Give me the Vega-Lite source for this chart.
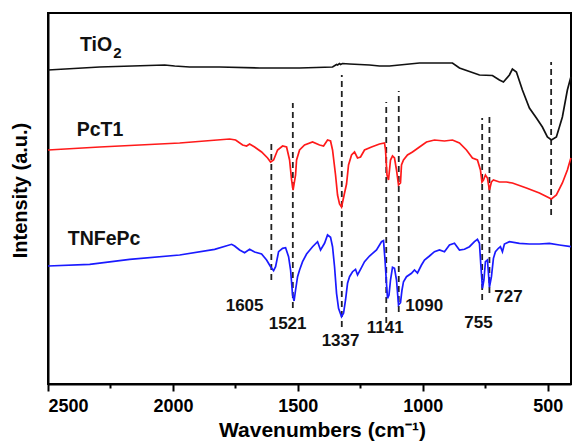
{
  "$schema": "https://vega.github.io/schema/vega-lite/v6.json",
  "autosize": "none",
  "width": 523,
  "height": 371,
  "padding": {"left": 48, "top": 13, "right": 1, "bottom": 63},
  "background": "white",
  "config": {
    "view": {"stroke": "black", "strokeWidth": 2},
    "font": "Liberation Sans"
  },
  "datasets": {
    "spectra": [
      {"s": "TiO2", "wn": 2500, "v": 313}, {"s": "TiO2", "wn": 2293, "v": 316}, {"s": "TiO2", "wn": 2033, "v": 318}, {"s": "TiO2", "wn": 1993, "v": 317}, {"s": "TiO2", "wn": 1933, "v": 316}, {"s": "TiO2", "wn": 1813, "v": 316}, {"s": "TiO2", "wn": 1653, "v": 315}, {"s": "TiO2", "wn": 1493, "v": 315}, {"s": "TiO2", "wn": 1361, "v": 316}, {"s": "TiO2", "wn": 1345, "v": 318.5}, {"s": "TiO2", "wn": 1341, "v": 318}, {"s": "TiO2", "wn": 1333, "v": 319.5}, {"s": "TiO2", "wn": 1329, "v": 318.5}, {"s": "TiO2", "wn": 1321, "v": 319.5}, {"s": "TiO2", "wn": 1293, "v": 319}, {"s": "TiO2", "wn": 1213, "v": 318}, {"s": "TiO2", "wn": 1173, "v": 317}, {"s": "TiO2", "wn": 1133, "v": 317}, {"s": "TiO2", "wn": 1093, "v": 318}, {"s": "TiO2", "wn": 1013, "v": 320}, {"s": "TiO2", "wn": 905, "v": 320}, {"s": "TiO2", "wn": 881, "v": 320}, {"s": "TiO2", "wn": 853, "v": 315}, {"s": "TiO2", "wn": 773, "v": 308}, {"s": "TiO2", "wn": 721, "v": 307.5}, {"s": "TiO2", "wn": 693, "v": 303}, {"s": "TiO2", "wn": 677, "v": 301}, {"s": "TiO2", "wn": 653, "v": 308}, {"s": "TiO2", "wn": 641, "v": 314}, {"s": "TiO2", "wn": 625, "v": 311}, {"s": "TiO2", "wn": 601, "v": 293}, {"s": "TiO2", "wn": 573, "v": 275}, {"s": "TiO2", "wn": 545, "v": 265}, {"s": "TiO2", "wn": 521, "v": 256}, {"s": "TiO2", "wn": 501, "v": 246}, {"s": "TiO2", "wn": 485, "v": 243}, {"s": "TiO2", "wn": 465, "v": 246}, {"s": "TiO2", "wn": 441, "v": 266}, {"s": "TiO2", "wn": 421, "v": 293}, {"s": "TiO2", "wn": 407, "v": 306},
      {"s": "PcT1", "wn": 2500, "v": 233}, {"s": "PcT1", "wn": 2293, "v": 236}, {"s": "PcT1", "wn": 1973, "v": 240}, {"s": "PcT1", "wn": 1773, "v": 244}, {"s": "PcT1", "wn": 1749, "v": 243}, {"s": "PcT1", "wn": 1721, "v": 238}, {"s": "PcT1", "wn": 1705, "v": 237}, {"s": "PcT1", "wn": 1693, "v": 239}, {"s": "PcT1", "wn": 1673, "v": 236}, {"s": "PcT1", "wn": 1645, "v": 231}, {"s": "PcT1", "wn": 1621, "v": 225}, {"s": "PcT1", "wn": 1609, "v": 221}, {"s": "PcT1", "wn": 1597, "v": 223}, {"s": "PcT1", "wn": 1581, "v": 233}, {"s": "PcT1", "wn": 1561, "v": 237}, {"s": "PcT1", "wn": 1545, "v": 236}, {"s": "PcT1", "wn": 1533, "v": 223}, {"s": "PcT1", "wn": 1525, "v": 203}, {"s": "PcT1", "wn": 1519, "v": 193}, {"s": "PcT1", "wn": 1509, "v": 208}, {"s": "PcT1", "wn": 1505, "v": 223}, {"s": "PcT1", "wn": 1493, "v": 233}, {"s": "PcT1", "wn": 1473, "v": 238}, {"s": "PcT1", "wn": 1441, "v": 241}, {"s": "PcT1", "wn": 1413, "v": 238}, {"s": "PcT1", "wn": 1397, "v": 237}, {"s": "PcT1", "wn": 1381, "v": 243}, {"s": "PcT1", "wn": 1369, "v": 242}, {"s": "PcT1", "wn": 1361, "v": 233}, {"s": "PcT1", "wn": 1349, "v": 208}, {"s": "PcT1", "wn": 1341, "v": 188}, {"s": "PcT1", "wn": 1333, "v": 179}, {"s": "PcT1", "wn": 1325, "v": 176}, {"s": "PcT1", "wn": 1313, "v": 190}, {"s": "PcT1", "wn": 1305, "v": 199}, {"s": "PcT1", "wn": 1297, "v": 218}, {"s": "PcT1", "wn": 1285, "v": 228}, {"s": "PcT1", "wn": 1273, "v": 231}, {"s": "PcT1", "wn": 1261, "v": 225}, {"s": "PcT1", "wn": 1249, "v": 226}, {"s": "PcT1", "wn": 1233, "v": 233}, {"s": "PcT1", "wn": 1205, "v": 236}, {"s": "PcT1", "wn": 1173, "v": 239}, {"s": "PcT1", "wn": 1153, "v": 240}, {"s": "PcT1", "wn": 1149, "v": 233}, {"s": "PcT1", "wn": 1143, "v": 208}, {"s": "PcT1", "wn": 1137, "v": 203}, {"s": "PcT1", "wn": 1129, "v": 223}, {"s": "PcT1", "wn": 1121, "v": 227}, {"s": "PcT1", "wn": 1113, "v": 225}, {"s": "PcT1", "wn": 1105, "v": 213}, {"s": "PcT1", "wn": 1097, "v": 198}, {"s": "PcT1", "wn": 1089, "v": 200}, {"s": "PcT1", "wn": 1085, "v": 218}, {"s": "PcT1", "wn": 1077, "v": 223}, {"s": "PcT1", "wn": 1061, "v": 228}, {"s": "PcT1", "wn": 1041, "v": 231}, {"s": "PcT1", "wn": 1013, "v": 236}, {"s": "PcT1", "wn": 985, "v": 241}, {"s": "PcT1", "wn": 953, "v": 243}, {"s": "PcT1", "wn": 913, "v": 242}, {"s": "PcT1", "wn": 881, "v": 243}, {"s": "PcT1", "wn": 853, "v": 240}, {"s": "PcT1", "wn": 825, "v": 233}, {"s": "PcT1", "wn": 801, "v": 225}, {"s": "PcT1", "wn": 781, "v": 223}, {"s": "PcT1", "wn": 769, "v": 213}, {"s": "PcT1", "wn": 763, "v": 201}, {"s": "PcT1", "wn": 757, "v": 203}, {"s": "PcT1", "wn": 749, "v": 208}, {"s": "PcT1", "wn": 741, "v": 205}, {"s": "PcT1", "wn": 733, "v": 193}, {"s": "PcT1", "wn": 725, "v": 201}, {"s": "PcT1", "wn": 717, "v": 203}, {"s": "PcT1", "wn": 693, "v": 201}, {"s": "PcT1", "wn": 665, "v": 201}, {"s": "PcT1", "wn": 641, "v": 200}, {"s": "PcT1", "wn": 585, "v": 195}, {"s": "PcT1", "wn": 533, "v": 190}, {"s": "PcT1", "wn": 501, "v": 186}, {"s": "PcT1", "wn": 485, "v": 184}, {"s": "PcT1", "wn": 465, "v": 188}, {"s": "PcT1", "wn": 441, "v": 200}, {"s": "PcT1", "wn": 421, "v": 213}, {"s": "PcT1", "wn": 407, "v": 225},
      {"s": "TNFePc", "wn": 2500, "v": 117}, {"s": "TNFePc", "wn": 2333, "v": 118.7}, {"s": "TNFePc", "wn": 2173, "v": 123.7}, {"s": "TNFePc", "wn": 1973, "v": 128}, {"s": "TNFePc", "wn": 1833, "v": 133.7}, {"s": "TNFePc", "wn": 1765, "v": 138.7}, {"s": "TNFePc", "wn": 1753, "v": 137}, {"s": "TNFePc", "wn": 1733, "v": 133}, {"s": "TNFePc", "wn": 1713, "v": 130.3}, {"s": "TNFePc", "wn": 1693, "v": 133.7}, {"s": "TNFePc", "wn": 1673, "v": 131}, {"s": "TNFePc", "wn": 1645, "v": 129}, {"s": "TNFePc", "wn": 1625, "v": 123}, {"s": "TNFePc", "wn": 1609, "v": 116.3}, {"s": "TNFePc", "wn": 1597, "v": 112.3}, {"s": "TNFePc", "wn": 1589, "v": 116.3}, {"s": "TNFePc", "wn": 1577, "v": 131.3}, {"s": "TNFePc", "wn": 1561, "v": 134.7}, {"s": "TNFePc", "wn": 1549, "v": 135.3}, {"s": "TNFePc", "wn": 1537, "v": 126.3}, {"s": "TNFePc", "wn": 1529, "v": 113}, {"s": "TNFePc", "wn": 1521, "v": 88}, {"s": "TNFePc", "wn": 1515, "v": 82}, {"s": "TNFePc", "wn": 1509, "v": 93}, {"s": "TNFePc", "wn": 1501, "v": 106.3}, {"s": "TNFePc", "wn": 1493, "v": 113}, {"s": "TNFePc", "wn": 1481, "v": 121.3}, {"s": "TNFePc", "wn": 1465, "v": 129}, {"s": "TNFePc", "wn": 1441, "v": 136.3}, {"s": "TNFePc", "wn": 1421, "v": 141.3}, {"s": "TNFePc", "wn": 1409, "v": 133}, {"s": "TNFePc", "wn": 1393, "v": 139.7}, {"s": "TNFePc", "wn": 1381, "v": 148}, {"s": "TNFePc", "wn": 1369, "v": 145.7}, {"s": "TNFePc", "wn": 1361, "v": 136.3}, {"s": "TNFePc", "wn": 1353, "v": 116.3}, {"s": "TNFePc", "wn": 1345, "v": 89.7}, {"s": "TNFePc", "wn": 1337, "v": 74.7}, {"s": "TNFePc", "wn": 1325, "v": 66.3}, {"s": "TNFePc", "wn": 1317, "v": 69.7}, {"s": "TNFePc", "wn": 1309, "v": 83}, {"s": "TNFePc", "wn": 1301, "v": 99.7}, {"s": "TNFePc", "wn": 1293, "v": 106.3}, {"s": "TNFePc", "wn": 1281, "v": 111.3}, {"s": "TNFePc", "wn": 1269, "v": 113.7}, {"s": "TNFePc", "wn": 1261, "v": 108}, {"s": "TNFePc", "wn": 1249, "v": 113.7}, {"s": "TNFePc", "wn": 1233, "v": 121.3}, {"s": "TNFePc", "wn": 1213, "v": 127}, {"s": "TNFePc", "wn": 1185, "v": 133}, {"s": "TNFePc", "wn": 1165, "v": 141.3}, {"s": "TNFePc", "wn": 1157, "v": 142.3}, {"s": "TNFePc", "wn": 1151, "v": 123}, {"s": "TNFePc", "wn": 1146, "v": 103}, {"s": "TNFePc", "wn": 1141, "v": 84.7}, {"s": "TNFePc", "wn": 1135, "v": 88}, {"s": "TNFePc", "wn": 1129, "v": 103}, {"s": "TNFePc", "wn": 1121, "v": 115.7}, {"s": "TNFePc", "wn": 1113, "v": 114.7}, {"s": "TNFePc", "wn": 1105, "v": 103}, {"s": "TNFePc", "wn": 1097, "v": 78}, {"s": "TNFePc", "wn": 1089, "v": 80.3}, {"s": "TNFePc", "wn": 1083, "v": 93}, {"s": "TNFePc", "wn": 1077, "v": 101.3}, {"s": "TNFePc", "wn": 1065, "v": 106.3}, {"s": "TNFePc", "wn": 1045, "v": 109.7}, {"s": "TNFePc", "wn": 1033, "v": 113}, {"s": "TNFePc", "wn": 1021, "v": 110}, {"s": "TNFePc", "wn": 1005, "v": 118}, {"s": "TNFePc", "wn": 993, "v": 123}, {"s": "TNFePc", "wn": 973, "v": 127}, {"s": "TNFePc", "wn": 953, "v": 131.3}, {"s": "TNFePc", "wn": 933, "v": 133}, {"s": "TNFePc", "wn": 913, "v": 131.3}, {"s": "TNFePc", "wn": 893, "v": 138}, {"s": "TNFePc", "wn": 873, "v": 139.7}, {"s": "TNFePc", "wn": 853, "v": 133}, {"s": "TNFePc", "wn": 833, "v": 133.7}, {"s": "TNFePc", "wn": 813, "v": 136.3}, {"s": "TNFePc", "wn": 793, "v": 141.3}, {"s": "TNFePc", "wn": 781, "v": 143.7}, {"s": "TNFePc", "wn": 773, "v": 139.7}, {"s": "TNFePc", "wn": 767, "v": 116.3}, {"s": "TNFePc", "wn": 761, "v": 94.7}, {"s": "TNFePc", "wn": 755, "v": 103}, {"s": "TNFePc", "wn": 749, "v": 121.3}, {"s": "TNFePc", "wn": 741, "v": 123}, {"s": "TNFePc", "wn": 737, "v": 109.7}, {"s": "TNFePc", "wn": 733, "v": 95.7}, {"s": "TNFePc", "wn": 725, "v": 106.3}, {"s": "TNFePc", "wn": 717, "v": 124.7}, {"s": "TNFePc", "wn": 709, "v": 131.3}, {"s": "TNFePc", "wn": 697, "v": 134.7}, {"s": "TNFePc", "wn": 689, "v": 136.3}, {"s": "TNFePc", "wn": 681, "v": 131.3}, {"s": "TNFePc", "wn": 673, "v": 139}, {"s": "TNFePc", "wn": 653, "v": 141.3}, {"s": "TNFePc", "wn": 613, "v": 139.7}, {"s": "TNFePc", "wn": 573, "v": 139}, {"s": "TNFePc", "wn": 533, "v": 139}, {"s": "TNFePc", "wn": 493, "v": 139.7}, {"s": "TNFePc", "wn": 453, "v": 138}, {"s": "TNFePc", "wn": 407, "v": 136.3}
    ],
    "peaks": [
      {"label": "1605", "wn": 1606, "lo": 103, "hi": 241, "lx": 1713, "ly": 77},
      {"label": "1521", "wn": 1520, "lo": 75, "hi": 280, "lx": 1541, "ly": 59},
      {"label": "1337", "wn": 1324, "lo": 56, "hi": 308, "lx": 1329, "ly": 42},
      {"label": "1141", "wn": 1146, "lo": 60, "hi": 281, "lx": 1150, "ly": 55},
      {"label": "1090", "wn": 1096, "lo": 71, "hi": 292, "lx": 994, "ly": 77},
      {"label": "755", "wn": 762, "lo": 83, "hi": 265, "lx": 777, "ly": 60},
      {"label": "727", "wn": 733, "lo": 90, "hi": 270, "lx": 657, "ly": 86},
      {"label": "", "wn": 486, "lo": 168, "hi": 321, "lx": 486, "ly": 168}
    ],
    "names": [
      {"name": "TiO", "wn": 2372, "v": 338.5},
      {"name": "PcT1", "wn": 2385, "v": 253},
      {"name": "TNFePc", "wn": 2421, "v": 144}
    ],
    "subs": [
      {"name": "2", "wn": 2222, "v": 330.5}
    ]
  },
  "layer": [
    {
      "data": {"name": "peaks"},
      "mark": {"type": "rule", "strokeDash": [6, 4], "strokeWidth": 1.8, "color": "#222222"},
      "encoding": {
        "x": {"field": "wn", "type": "quantitative"},
        "y": {"field": "lo", "type": "quantitative"},
        "y2": {"field": "hi"}
      }
    },
    {
      "data": {"name": "spectra"},
      "mark": {"type": "line", "strokeWidth": 1.7, "interpolate": "linear"},
      "encoding": {
        "x": {
          "field": "wn", "type": "quantitative",
          "scale": {"domain": [2500, 406.5], "nice": false, "zero": false},
          "axis": {
            "values": [2500, 2250, 2000, 1750, 1500, 1250, 1000, 750, 500],
            "labelExpr": "datum.value % 500 === 0 ? datum.label : ''",
            "format": "d",
            "grid": false,
            "domainColor": "black", "domainWidth": 2,
            "tickColor": "black", "tickWidth": 2,
            "tickSize": {"condition": {"test": "datum.value % 500 === 0", "value": 7}, "value": 4},
            "labelPadding": 6,
            "labelFont": "Liberation Sans", "labelFontWeight": "bold", "labelFontSize": 18, "labelColor": "black",
            "title": "Wavenumbers (cm⁻¹)",
            "titleFont": "Liberation Sans", "titleFontWeight": "bold", "titleFontSize": 21, "titleColor": "black",
            "titleX": 274, "titleY": 52, "titleBaseline": "alphabetic", "titleAlign": "center"
          }
        },
        "y": {
          "field": "v", "type": "quantitative",
          "scale": {"domain": [-1, 370], "nice": false, "zero": false},
          "axis": {
            "labels": false, "ticks": false, "grid": false,
            "domainColor": "black", "domainWidth": 2,
            "title": "Intensity (a.u.)",
            "titleFont": "Liberation Sans", "titleFontWeight": "bold", "titleFontSize": 20, "titleColor": "black",
            "titleX": -28, "titleY": 177, "titleAngle": -90, "titleAlign": "center", "titleBaseline": "middle"
          }
        },
        "color": {
          "field": "s", "type": "nominal",
          "scale": {"domain": ["TiO2", "PcT1", "TNFePc"], "range": ["#111111", "#ff1a1a", "#1a1aff"]},
          "legend": null
        }
      }
    },
    {
      "data": {"name": "peaks"},
      "mark": {"type": "text", "font": "Liberation Sans", "fontWeight": "bold", "fontSize": 17, "color": "#111111", "align": "center", "baseline": "middle"},
      "encoding": {
        "x": {"field": "lx", "type": "quantitative"},
        "y": {"field": "ly", "type": "quantitative"},
        "text": {"field": "label"}
      }
    },
    {
      "data": {"name": "names"},
      "mark": {"type": "text", "font": "Liberation Sans", "fontWeight": "bold", "fontSize": 19.5, "color": "#111111", "align": "left", "baseline": "middle"},
      "encoding": {
        "x": {"field": "wn", "type": "quantitative"},
        "y": {"field": "v", "type": "quantitative"},
        "text": {"field": "name"}
      }
    },
    {
      "data": {"name": "subs"},
      "mark": {"type": "text", "font": "Liberation Sans", "fontWeight": "bold", "fontSize": 15, "color": "#111111", "align": "center", "baseline": "middle"},
      "encoding": {
        "x": {"field": "wn", "type": "quantitative"},
        "y": {"field": "v", "type": "quantitative"},
        "text": {"field": "name"}
      }
    }
  ]
}
